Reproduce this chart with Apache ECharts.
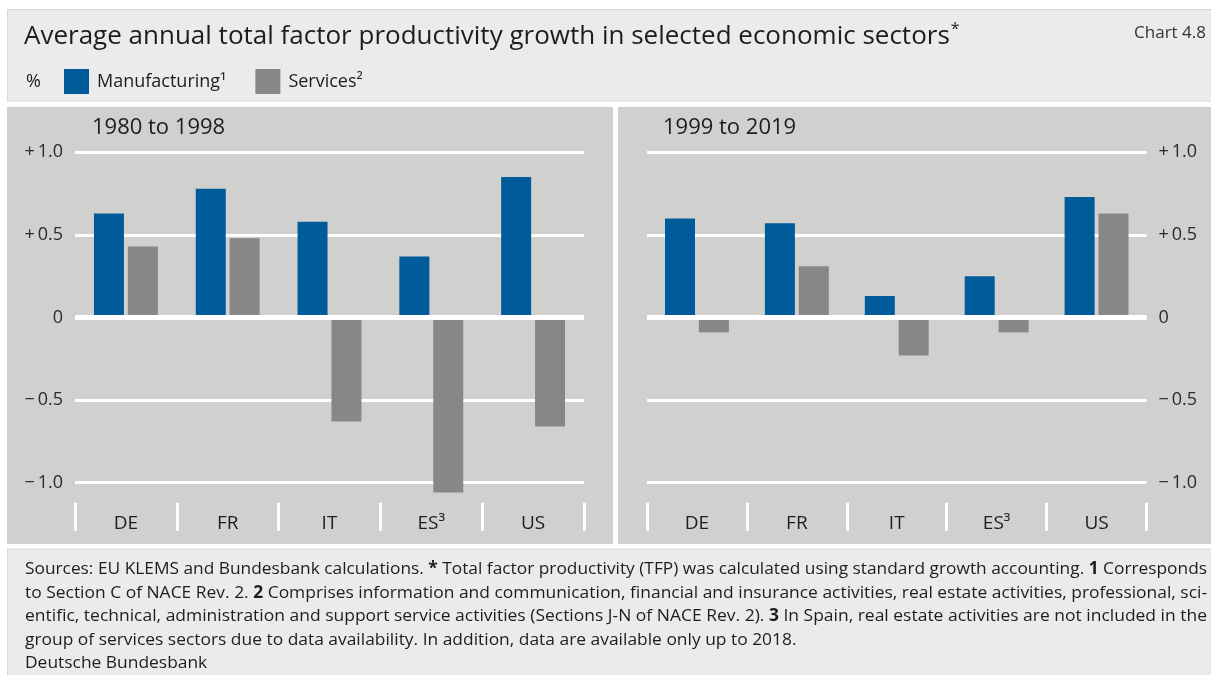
<!DOCTYPE html>
<html>
<head>
<meta charset="utf-8">
<script src="https://cdn.jsdelivr.net/npm/echarts@6/dist/echarts.min.js"></script>
<style>
  html, body { margin: 0; padding: 0; background: #ffffff; }
  #chart { width: 1211px; height: 675px; }
</style>
</head>
<body>
<div id="chart"></div>
<script>
// ---- data -------------------------------------------------------------
const categories = ['DE', 'FR', 'IT', 'ES³', 'US'];
const seriesNames = ['Manufacturing¹', 'Services²'];
const panelTitles = ['1980 to 1998', '1999 to 2019'];

const manufacturing1980to1998 = [0.63, 0.78, 0.58, 0.37, 0.85];
const services1980to1998      = [0.43, 0.48, -0.63, -1.06, -0.66];
const manufacturing1999to2019 = [0.60, 0.57, 0.13, 0.25, 0.73];
const services1999to2019      = [-0.09, 0.31, -0.23, -0.09, 0.63];

const yTickValues = [-1.0, -0.5, 0, 0.5, 1.0];
const yTickLabels = ['\u2212\u20091.0', '\u2212\u20090.5', '0', '+\u20090.5', '+\u20091.0'];

const titleText = 'Average annual total factor productivity growth in selected economic sectors';
const chartNumber = 'Chart 4.8';
const unitLabel = '%';
const sourceLine = 'Deutsche Bundesbank';

// footnote lines; b = bold run
const footnoteLines = [
  [{ t: 'Sources: EU KLEMS and Bundesbank calculations. ' }, { t: '*', b: 1 },
   { t: ' Total factor productivity (TFP) was calculated using standard growth accounting. ' }, { t: '1', b: 1 },
   { t: ' Corresponds' }],
  [{ t: 'to Section C of NACE Rev. 2. ' }, { t: '2', b: 1 },
   { t: ' Comprises information and communication, financial and insurance activities, real estate activities, professional, sci-' }],
  [{ t: 'entific, technical, administration and support service activities (Sections J-N of NACE Rev. 2). ' }, { t: '3', b: 1 },
   { t: ' In Spain, real estate activities are not included in the' }],
  [{ t: 'group of services sectors due to data availability. In addition, data are available only up to 2018.' }]
];

// ---- style ------------------------------------------------------------
const FONT = '"Open Sans", "Noto Sans", sans-serif';
const BLUE = '#005b9a';
const GREY = '#878786';
const PANEL = '#d0d0cf';
const HEAD = '#ebebeb';
const TEXT = '#1d1d1b';

const ctx = document.createElement('canvas').getContext('2d');
function textWidth(t, size, weight) {
  ctx.font = (weight || 'normal') + ' ' + size + 'px ' + FONT;
  return ctx.measureText(t).width;
}

// title size chosen so the heading spans the header line
const titleSize = Math.min(26, 947 / textWidth(titleText, 100) * 100);
const titleWidth = textWidth(titleText, titleSize);

// footnotes: each full line is set to the block width (condensed, justified look)
const FOOT_SIZE = 17;
const footLeft = 25, footRight = 1207;
const footY = [569, 593, 616, 640];
function runsWidth(runs) {
  return runs.reduce((s, r) => s + textWidth(r.t, FOOT_SIZE, r.b ? 'bold' : 'normal'), 0);
}
const fullScales = footnoteLines.slice(0, 3).map(l => (footRight - footLeft) / runsWidth(l));
const avgScale = fullScales.reduce((a, b) => a + b, 0) / fullScales.length;
const footRich = {
  n: { fontSize: FOOT_SIZE, fontFamily: FONT, fill: TEXT },
  b: { fontSize: FOOT_SIZE, fontFamily: FONT, fill: TEXT, fontWeight: 'bold' }
};
const footnoteElements = footnoteLines.map((runs, i) => ({
  type: 'text',
  x: footLeft, y: footY[i],
  scaleX: i < 3 ? fullScales[i] : avgScale,
  z: 10,
  style: {
    text: runs.map(r => '{' + (r.b ? 'b' : 'n') + '|' + r.t + '}').join(''),
    rich: footRich,
    verticalAlign: 'middle'
  }
}));

function plainText(x, y, text, size, extra) {
  return Object.assign({
    type: 'text', x: x, y: y, z: 10,
    style: { text: text, fontSize: size, fontFamily: FONT, fill: TEXT, verticalAlign: 'middle', align: 'left' }
  }, extra || {});
}

function rect(x, y, w, h, fill, stroke) {
  return {
    type: 'rect', z: -10, silent: true,
    shape: { x: x, y: y, width: w, height: h },
    style: { fill: fill, stroke: stroke || null, lineWidth: stroke ? 1 : 0 }
  };
}

// ---- axes -------------------------------------------------------------
function valueAxis(gridIndex, position) {
  return {
    type: 'value', gridIndex: gridIndex, position: position,
    min: -1, max: 1, interval: 0.5,
    axisLine: { show: false }, axisTick: { show: false },
    splitLine: { lineStyle: { color: '#ffffff', width: 3 } },
    axisLabel: {
      margin: 12, fontSize: 18, color: '#2b2b2a', fontFamily: FONT,
      formatter: v => {
        const i = yTickValues.findIndex(t => Math.abs(t - v) < 1e-9);
        return i >= 0 ? yTickLabels[i] : '';
      }
    }
  };
}
function categoryAxis(gridIndex) {
  return {
    type: 'category', gridIndex: gridIndex, data: categories, position: 'bottom', offset: 20,
    axisLine: { show: false, onZero: false },
    axisTick: { show: true, length: 28, lineStyle: { color: '#ffffff', width: 3 } },
    axisLabel: { margin: 11, fontSize: 19, color: TEXT, fontFamily: FONT },
    splitLine: { show: false }
  };
}

const zeroLine = {
  silent: true, symbol: ['none', 'none'], label: { show: false },
  lineStyle: { color: '#ffffff', width: 5, type: 'solid' },
  data: [{ yAxis: 0 }], z: 5, animation: false
};
function barSeries(name, data, gridIndex, color, withZero) {
  const s = {
    name: name, type: 'bar', xAxisIndex: gridIndex, yAxisIndex: gridIndex,
    data: data, barWidth: 30, barGap: '13%', clip: false,
    itemStyle: { color: color }
  };
  if (withZero) s.markLine = zeroLine;
  return s;
}

// ---- chart ------------------------------------------------------------
const chart = echarts.init(document.getElementById('chart'), null, { renderer: 'canvas' });
chart.setOption({
  animation: false,
  backgroundColor: '#ffffff',
  textStyle: { fontFamily: FONT },
  legend: {
    data: seriesNames, left: 64, top: 69, padding: 0,
    itemWidth: 25, itemHeight: 25, itemGap: 29, icon: 'rect',
    selectedMode: false,
    textStyle: { fontSize: 18, fontFamily: FONT, color: TEXT, padding: [0, 0, 0, 3] }
  },
  grid: [
    { left: 75, top: 152.3, width: 509, height: 330.4 },
    { left: 647, top: 152.3, width: 499.5, height: 330.4 }
  ],
  xAxis: [categoryAxis(0), categoryAxis(1)],
  yAxis: [valueAxis(0, 'left'), valueAxis(1, 'right')],
  series: [
    barSeries(seriesNames[0], manufacturing1980to1998, 0, BLUE, false),
    barSeries(seriesNames[1], services1980to1998, 0, GREY, true),
    barSeries(seriesNames[0], manufacturing1999to2019, 1, BLUE, false),
    barSeries(seriesNames[1], services1999to2019, 1, GREY, true)
  ],
  graphic: {
    elements: [
      rect(7.5, 9.5, 1210, 91.5, HEAD, '#d8d8d8'),
      rect(7, 107, 606, 437, PANEL),
      rect(618, 107, 593, 437, PANEL),
      rect(7.5, 549, 1210, 130, HEAD, '#d8d8d8'),
      plainText(24, 37, titleText, titleSize),
      plainText(24 + titleWidth + 1, 29, '*', Math.round(titleSize * 0.6)),
      plainText(1206, 33, chartNumber, 17, { style: { text: chartNumber, fontSize: 17, fontFamily: FONT, fill: '#333333', verticalAlign: 'middle', align: 'right' } }),
      plainText(26, 82, unitLabel, 18),
      plainText(92, 128, panelTitles[0], 22),
      plainText(663, 128, panelTitles[1], 22),
      plainText(footLeft, 663, sourceLine, FOOT_SIZE, { scaleX: avgScale })
    ].concat(footnoteElements)
  }
});
</script>
</body>
</html>
